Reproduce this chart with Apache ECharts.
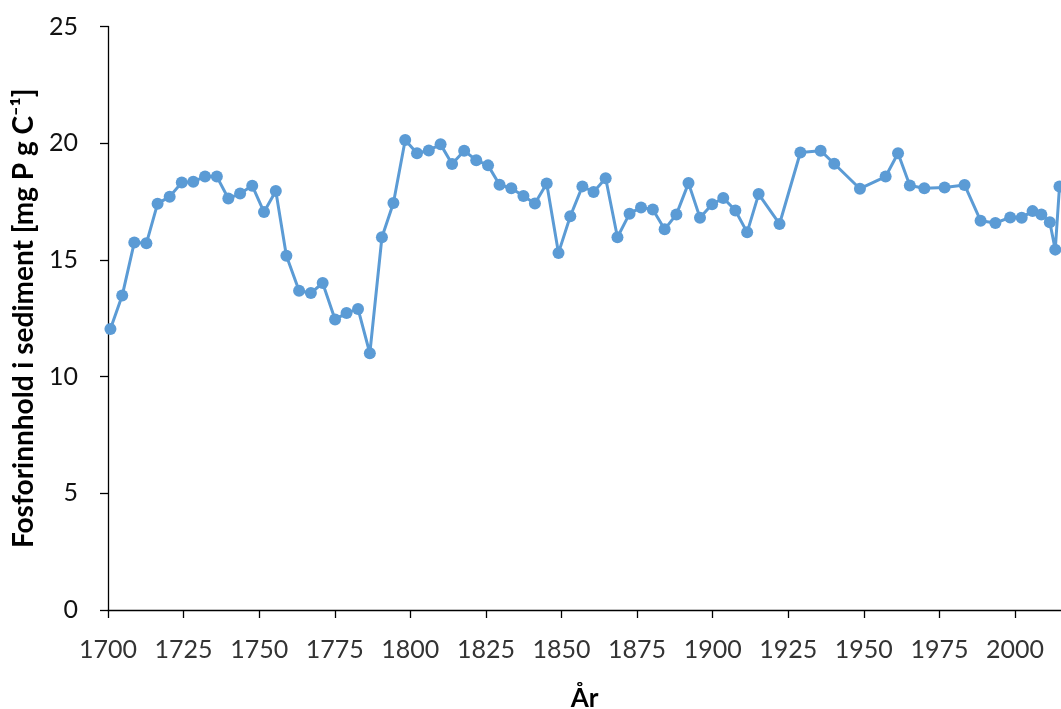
<!DOCTYPE html>
<html>
<head>
<meta charset="utf-8">
<title>Fosforinnhold i sediment</title>
<script src="https://cdn.jsdelivr.net/npm/echarts@6/dist/echarts.min.js"></script>
<style>
  html, body { margin: 0; padding: 0; background: #fff; }
  #chart { width: 1061px; height: 709px; }
</style>
</head>
<body>
<div id="chart"></div>
<script>
// År (årstall for hvert sedimentlag)
var years = [
    1700.8, 1704.7, 1708.7, 1712.7, 1716.4, 1720.4, 1724.4, 1728.2, 1732.1, 1736.0,
    1739.8, 1743.7, 1747.7, 1751.6, 1755.5, 1759.0, 1763.2, 1767.1, 1771.0, 1775.1,
    1778.9, 1782.7, 1786.6, 1790.6, 1794.4, 1798.3, 1802.2, 1806.1, 1810.0, 1813.8,
    1817.8, 1821.8, 1825.7, 1829.5, 1833.4, 1837.4, 1841.2, 1845.1, 1849.0, 1852.9,
    1856.9, 1860.6, 1864.6, 1868.5, 1872.5, 1876.3, 1880.2, 1884.1, 1888.0, 1892.0,
    1895.8, 1899.8, 1903.5, 1907.5, 1911.4, 1915.2, 1922.1, 1929.0, 1935.7, 1940.2,
    1948.7, 1957.2, 1961.3, 1965.2, 1970.0, 1976.7, 1983.3, 1988.6, 1993.5, 1998.4,
    2002.2, 2005.8, 2008.7, 2011.5, 2013.3, 2014.7
];

// Fosforinnhold [mg P g C-1]
var fosfor = [
    12.04, 13.47, 15.75, 15.71, 17.41, 17.71, 18.32, 18.35, 18.57, 18.57,
    17.63, 17.84, 18.18, 17.05, 17.95, 15.18, 13.68, 13.58, 14.01, 12.45,
    12.72, 12.90, 11.00, 15.97, 17.44, 20.14, 19.57, 19.69, 19.95, 19.11,
    19.68, 19.27, 19.05, 18.22, 18.07, 17.74, 17.42, 18.27, 15.30, 16.87,
    18.15, 17.91, 18.50, 15.97, 16.98, 17.25, 17.16, 16.31, 16.95, 18.29,
    16.81, 17.38, 17.65, 17.12, 16.18, 17.82, 16.54, 19.60, 19.68, 19.12,
    18.05, 18.57, 19.57, 18.19, 18.07, 18.10, 18.21, 16.68, 16.58, 16.82,
    16.81, 17.09, 16.95, 16.61, 15.44, 18.14
];

var xTicks = [1700, 2015.2, 25];   // min, max, interval
var yTicks = [0, 25, 5];

var points = [];
for (var i = 0; i < years.length; i++) {
    points.push([years[i], fosfor[i]]);
}

var chart = echarts.init(document.getElementById('chart'));

var option = {
    animation: false,
    backgroundColor: '#ffffff',
    textStyle: {
        fontFamily: 'Lato'
    },
    grid: {
        left: 108,
        right: 0,
        top: 26.5,
        bottom: 99,
        outerBoundsMode: 'none'
    },
    xAxis: {
        type: 'value',
        min: xTicks[0],
        max: xTicks[1],
        interval: xTicks[2],
        name: 'År',
        nameLocation: 'middle',
        nameGap: 76,
        nameTextStyle: {
            fontFamily: 'Lato',
            fontWeight: 'bold',
            fontSize: 26,
            color: '#000'
        },
        splitLine: { show: false },
        axisLine: {
            onZero: false,
            lineStyle: { color: '#000', width: 1.3 }
        },
        axisTick: {
            length: 8,
            lineStyle: { color: '#000', width: 1.3 }
        },
        axisLabel: {
            margin: 27,
            fontSize: 25,
            color: '#333',
            showMaxLabel: false,
            formatter: function (v) { return String(v); }
        }
    },
    yAxis: {
        type: 'value',
        min: yTicks[0],
        max: yTicks[1],
        interval: yTicks[2],
        name: 'Fosforinnhold i sediment [mg P g C⁻¹]',
        nameLocation: 'middle',
        nameGap: 68,
        nameTextStyle: {
            fontFamily: 'Lato',
            fontWeight: 'bold',
            fontSize: 28,
            color: '#000'
        },
        splitLine: { show: false },
        axisLine: {
            show: true,
            lineStyle: { color: '#000', width: 1.3 }
        },
        axisTick: {
            show: true,
            length: 8,
            lineStyle: { color: '#000', width: 1.3 }
        },
        axisLabel: {
            margin: 30,
            fontSize: 25,
            color: '#111'
        }
    },
    series: [
        {
            type: 'line',
            data: points,
            symbol: 'circle',
            symbolSize: 12,
            showAllSymbol: true,
            lineStyle: { color: '#5b9bd5', width: 3 },
            itemStyle: { color: '#5b9bd5', borderWidth: 0 }
        }
    ]
};

chart.setOption(option);
</script>
</body>
</html>
